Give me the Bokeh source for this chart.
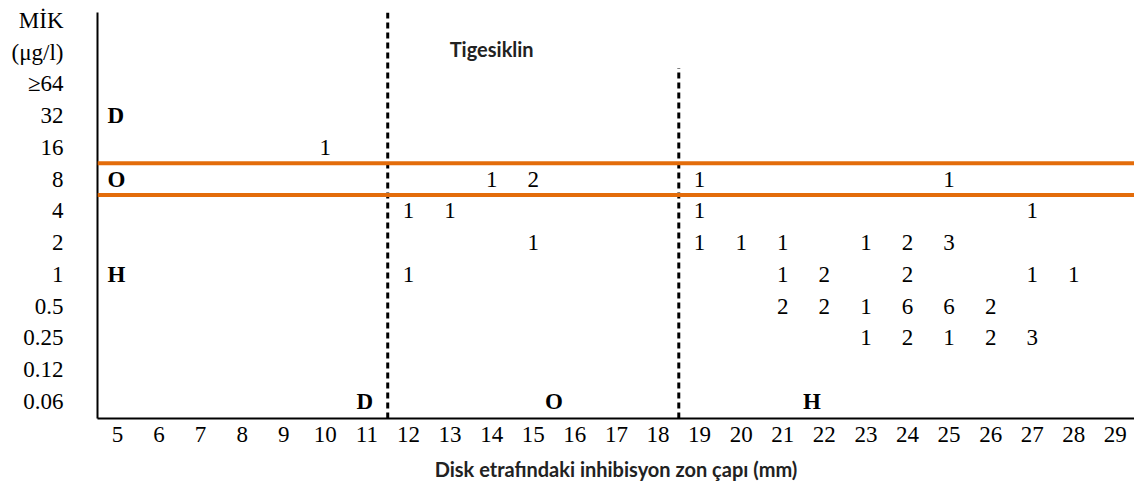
from bokeh.plotting import figure
from bokeh.models import Range1d, FixedTicker, Span, Title, ColumnDataSource
from bokeh.core.properties import value
from bokeh.embed import file_html
from bokeh.resources import INLINE

# ---------------- data ----------------
title_text = "Tigesiklin"
x_title = "Disk etrafındaki inhibisyon zon çapı (mm)"
zone_ticks = list(range(5, 30))                      # disk zone diameter (mm)
mic_labels = ["≥64", "32", "16", "8", "4", "2", "1", "0.5", "0.25", "0.12", "0.06"]
header_labels = ["(μg/l)", "MİK"]

cell_mic = ["16",
            "8", "8", "8", "8",
            "4", "4", "4", "4",
            "2", "2", "2", "2", "2", "2", "2",
            "1", "1", "1", "1", "1", "1",
            "0.5", "0.5", "0.5", "0.5", "0.5", "0.5",
            "0.25", "0.25", "0.25", "0.25", "0.25"]
cell_zone = [10,
             14, 15, 19, 25,
             12, 13, 19, 27,
             15, 19, 20, 21, 23, 24, 25,
             12, 21, 22, 24, 27, 28,
             21, 22, 23, 24, 25, 26,
             23, 24, 25, 26, 27]
cell_count = [1,
              1, 2, 1, 1,
              1, 1, 1, 1,
              1, 1, 1, 1, 1, 2, 3,
              1, 1, 2, 2, 1, 1,
              2, 2, 1, 6, 6, 2,
              1, 2, 1, 2, 3]

# interpretive breakpoints
zone_breaks = [11.5, 18.5]            # D <= 11 mm, H >= 19 mm
mic_band = ["16", "8", "4"]           # O band: MIC 8
mic_letters = ["D", "O", "H"]
mic_letter_rows = ["32", "8", "1"]
zone_letters = ["D", "O", "H"]

# ---------------- helpers ----------------
n = len(mic_labels)
def ypos(lbl):
    return n - 1 - mic_labels.index(lbl)

serif = "'Liberation Serif', 'Times New Roman', serif"
sans = "Lato, sans-serif"
orange = "#E36C0A"

x0, x1 = 4.52, 29.46
y0, y1 = -0.54, 12.25

p = figure(width=1134, height=490, output_backend="svg", toolbar_location=None,
           x_range=Range1d(x0, x1), y_range=Range1d(y0, y1),
           min_border_left=97, min_border_right=0, min_border_top=12, min_border_bottom=0)
p.outline_line_color = None
p.grid.visible = False
p.background_fill_color = "white"
p.border_fill_color = "white"

# axes
p.xaxis.ticker = FixedTicker(ticks=zone_ticks)
p.xaxis.major_label_overrides = {t: str(t) for t in zone_ticks}
p.yaxis.ticker = FixedTicker(ticks=list(range(n + len(header_labels))))
ov = {ypos(l): l for l in mic_labels}
for i, h in enumerate(header_labels):
    ov[n + i] = h
p.yaxis.major_label_overrides = ov
for ax in (p.xaxis, p.yaxis):
    ax.axis_line_width = 2
    ax.axis_line_color = "black"
    ax.major_tick_line_color = None
    ax.minor_tick_line_color = None
    ax.major_tick_out = 0
    ax.major_tick_in = 0
    ax.major_label_text_font = serif
    ax.major_label_text_font_size = "23px"
    ax.major_label_text_color = "black"
p.xaxis.major_label_standoff = 8
p.yaxis.major_label_standoff = 34
p.yaxis.major_label_text_align = "center"

# x-axis title below the axis
p.add_layout(Title(text=x_title, align="center", offset=-51, standoff=20,
                   text_font=sans, text_font_style="bold",
                   text_font_size="20px", text_color="#222222"), "below")

# orange band lines for MIC 8
for a, b in ((mic_band[0], mic_band[1]), (mic_band[1], mic_band[2])):
    p.add_layout(Span(location=(ypos(a) + ypos(b)) / 2, dimension="width",
                      line_color=orange, line_width=4))

# dashed zone breakpoints
p.segment(x0=zone_breaks, x1=zone_breaks, y0=[y0, y0], y1=[y1, n - 0.5],
          line_color="black", line_width=3, line_dash="6 4")

# counts
src = ColumnDataSource(dict(x=cell_zone, y=[ypos(m) for m in cell_mic],
                            t=[str(c) for c in cell_count]))
p.text(x="x", y="y", text="t", source=src, text_font=value(serif),
       text_font_size="23px", text_align="center", text_baseline="middle",
       text_color="black")

# category letters on the MIC side
p.text(x=[4.76] * 3, y=[ypos(r) for r in mic_letter_rows], text=mic_letters,
       text_font=value(serif), text_font_style="bold", text_font_size="23px",
       text_align="left", text_baseline="middle", text_color="black")

# category letters on the zone side
p.text(x=[11.15, 15.5, 21.7], y=[0, 0, 0], text=zone_letters,
       text_font=value(serif), text_font_style="bold", text_font_size="23px",
       text_align=["right", "center", "center"], text_baseline="middle",
       text_color="black")

# title inside the chart
p.text(x=[14.0], y=[11.1], text=[title_text], text_font=value(sans),
       text_font_style="bold", text_font_size="20px", text_align="center",
       text_baseline="middle", text_color="#222222")

open("out.html", "w").write(file_html(p, INLINE))
